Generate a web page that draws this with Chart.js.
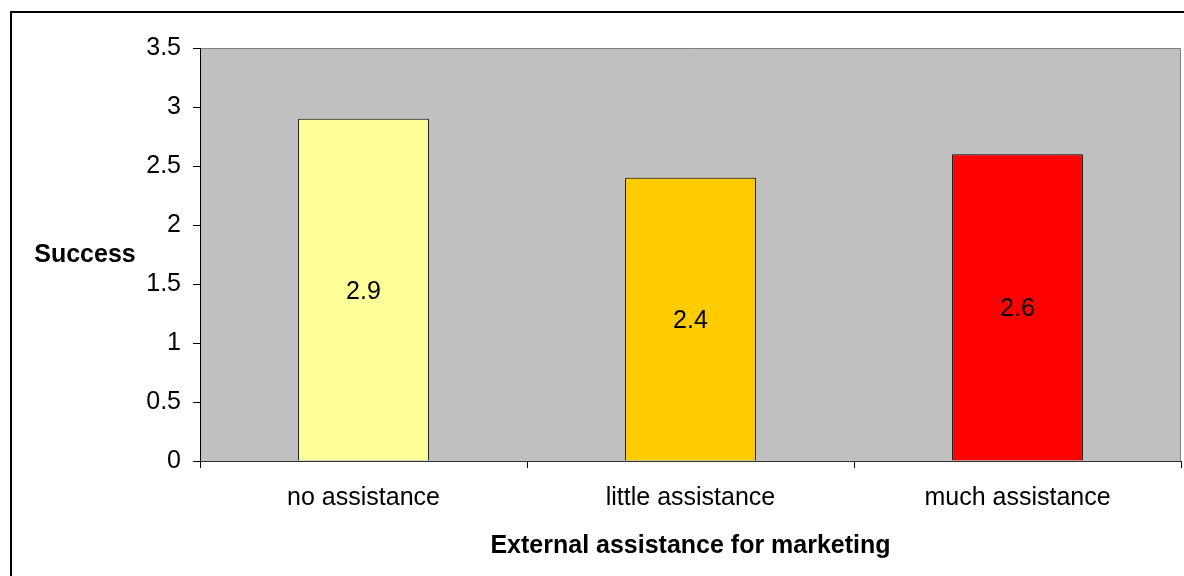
<!DOCTYPE html>
<html>
<head>
<meta charset="utf-8">
<script src="https://cdn.jsdelivr.net/npm/chart.js@4"></script>
<style>
  html, body { margin: 0; padding: 0; background: #fff; }
  #wrap { width: 1184px; height: 576px; }
</style>
</head>
<body>
<div id="wrap"><canvas id="chart" width="1184" height="576"></canvas></div>
<script>
var categories = ["no assistance", "little assistance", "much assistance"];
var success_values = [2.9, 2.4, 2.6];
var bar_colors = ["#FFFF99", "#FFCC00", "#FF0000"];
var y_title = "Success";
var x_title = "External assistance for marketing";

var FONT = "'Liberation Sans', Arial, sans-serif";
var SIZE = 25;

// grey plot background, outer frame, value labels and the horizontal y title
var decorations = {
    id: "decorations",
    beforeDraw: function (chart) {
        var ctx = chart.ctx;
        var a = chart.chartArea;
        ctx.save();
        ctx.fillStyle = "#C0C0C0";
        ctx.fillRect(a.left, a.top, a.right - a.left, a.bottom - a.top);
        ctx.strokeStyle = "#808080";
        ctx.lineWidth = 1;
        ctx.beginPath();
        ctx.moveTo(a.left, a.top + 0.5);
        ctx.lineTo(a.right - 0.5, a.top + 0.5);
        ctx.lineTo(a.right - 0.5, a.bottom);
        ctx.stroke();
        ctx.strokeStyle = "#000";
        ctx.lineWidth = 2;
        ctx.strokeRect(11, 12, 1200, 600);
        ctx.restore();
    },
    afterDatasetsDraw: function (chart) {
        var ctx = chart.ctx;
        var a = chart.chartArea;
        ctx.save();
        ctx.fillStyle = "#000";
        ctx.font = SIZE + "px " + FONT;
        ctx.textAlign = "center";
        ctx.textBaseline = "middle";
        chart.getDatasetMeta(0).data.forEach(function (bar, i) {
            ctx.fillText(String(success_values[i]), bar.x, (bar.y + bar.base) / 2 + 2);
        });
        ctx.font = "bold " + SIZE + "px " + FONT;
        ctx.fillText(y_title, 85, (a.top + a.bottom) / 2 + 1);
        ctx.restore();
    }
};

var ctx = document.getElementById("chart").getContext("2d");

new Chart(ctx, {
    type: "bar",
    data: {
        labels: categories,
        datasets: [
            {
                data: success_values,
                backgroundColor: bar_colors,
                borderColor: "#000",
                borderWidth: 1,
                categoryPercentage: 1,
                barPercentage: 0.4
            }
        ]
    },
    options: {
        responsive: false,
        animation: false,
        layout: { padding: { top: 48, right: 3, left: 0, bottom: 0 } },
        plugins: {
            legend: { display: false },
            tooltip: { enabled: false }
        },
        scales: {
            x: {
                grid: { display: true, drawOnChartArea: false, tickLength: 7, color: "#000" },
                border: { color: "#333", width: 1 },
                ticks: { color: "#000", font: { family: FONT, size: SIZE }, padding: 15 },
                title: {
                    display: true,
                    text: x_title,
                    color: "#000",
                    font: { family: FONT, size: SIZE, weight: "bold" },
                    padding: { top: 4, bottom: 15 }
                },
                afterFit: function (scale) { scale.height = 115; }
            },
            y: {
                min: 0,
                max: 3.5,
                grid: { display: true, drawOnChartArea: false, tickLength: 7, color: "#000" },
                border: { color: "#000", width: 1 },
                ticks: {
                    stepSize: 0.5,
                    color: "#000",
                    font: { family: FONT, size: SIZE },
                    padding: 12,
                    callback: function (v) { return String(v); }
                },
                afterFit: function (scale) { scale.width = 200; }
            }
        }
    },
    plugins: [decorations]
});
</script>
</body>
</html>
